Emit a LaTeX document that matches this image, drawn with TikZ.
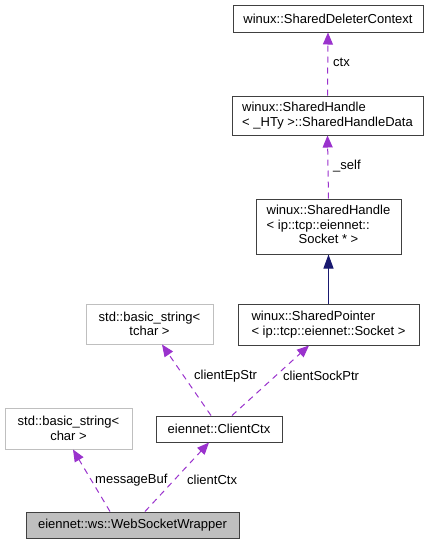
\documentclass[tikz,border=0pt]{standalone}
\usepackage{fontspec}
\setmainfont{Liberation Sans}
\usetikzlibrary{arrows.meta}
\definecolor{edgepurple}{HTML}{9A32CD}
\definecolor{edgenavy}{HTML}{191970}
\definecolor{boxgray}{HTML}{BFBFBF}
\definecolor{boxline}{HTML}{404040}
\begin{document}
\begin{tikzpicture}[x=1pt,y=-1pt,
  every node/.style={font=\fontsize{13}{14.5}\selectfont},
  cls/.style={draw=boxline, line width=1pt, rectangle, inner sep=0pt, align=left},
  ext/.style={cls, draw=boxgray, align=center},
  cur/.style={cls, fill=boxgray},
  member/.style={draw=edgepurple, line width=1pt, dash pattern=on 6pt off 5pt, -{Triangle[length=12pt,width=10pt]}},
  inherit/.style={draw=edgenavy, line width=1pt, -{Triangle[length=14pt,width=10pt]}},
  lbl/.style={anchor=west, inner sep=0pt}]
\useasboundingbox (0,0) rectangle (430,544);
\fill[white] (0,0) rectangle (430,544);
% nodes
\node[cls, minimum width=190pt, minimum height=27pt] (sdc) at (328,18.5) {winux::SharedDeleterContext};
\node[cls, minimum width=191pt, minimum height=39pt] (shd) at (327.5,115.5) {winux::SharedHandle\\< \_HTy >::SharedHandleData};
\node[cls, minimum width=145pt, minimum height=55pt] (sh) at (328.5,226.5) {\begin{tabular}{@{}l@{}}winux::SharedHandle\\< ip::tcp::eiennet::\\\multicolumn{1}{@{}c@{}}{Socket * >}\end{tabular}};
\node[cls, minimum width=181pt, minimum height=41pt] (sp) at (328.5,324.5) {winux::SharedPointer\\< ip::tcp::eiennet::Socket >};
\node[ext, minimum width=127pt, minimum height=40pt] (bst) at (149.5,324) {std::basic\_string<\\tchar >};
\node[cls, minimum width=126pt, minimum height=26pt] (cc) at (219,429) {eiennet::ClientCtx};
\node[ext, minimum width=127pt, minimum height=41pt] (bsc) at (68.5,428.5) {std::basic\_string<\\char >};
\node[cur, minimum width=213pt, minimum height=26pt] (wsw) at (132.5,525) {eiennet::ws::WebSocketWrapper};
% edges
\draw[member] (shd.north) -- (sdc.south);
\draw[member] (sh.north) -- (shd.south);
\draw[inherit] (sp.north) -- (sh.south);
\draw[member] ([xshift=-8pt]cc.north) -- ([xshift=12.5pt]bst.south);
\draw[member] ([xshift=13pt]cc.north) -- ([xshift=-19.5pt]sp.south);
\draw[member] ([xshift=-22.5pt]wsw.north) -- ([xshift=4.5pt]bsc.south);
\draw[member] ([xshift=12.5pt]wsw.north) -- ([xshift=-10pt]cc.south);
% labels
\node[lbl] (lctx) at (333,62) {ctx};
\node[lbl] (lself) at (333,166) {\_self};
\node[lbl] (lep) at (194,376) {clientEpStr};
\node[lbl] (lsock) at (283,376) {clientSockPtr};
\node[lbl] (lmsg) at (95,480) {messageBuf};
\node[lbl] (lcc) at (187,480) {clientCtx};
\end{tikzpicture}
\end{document}
